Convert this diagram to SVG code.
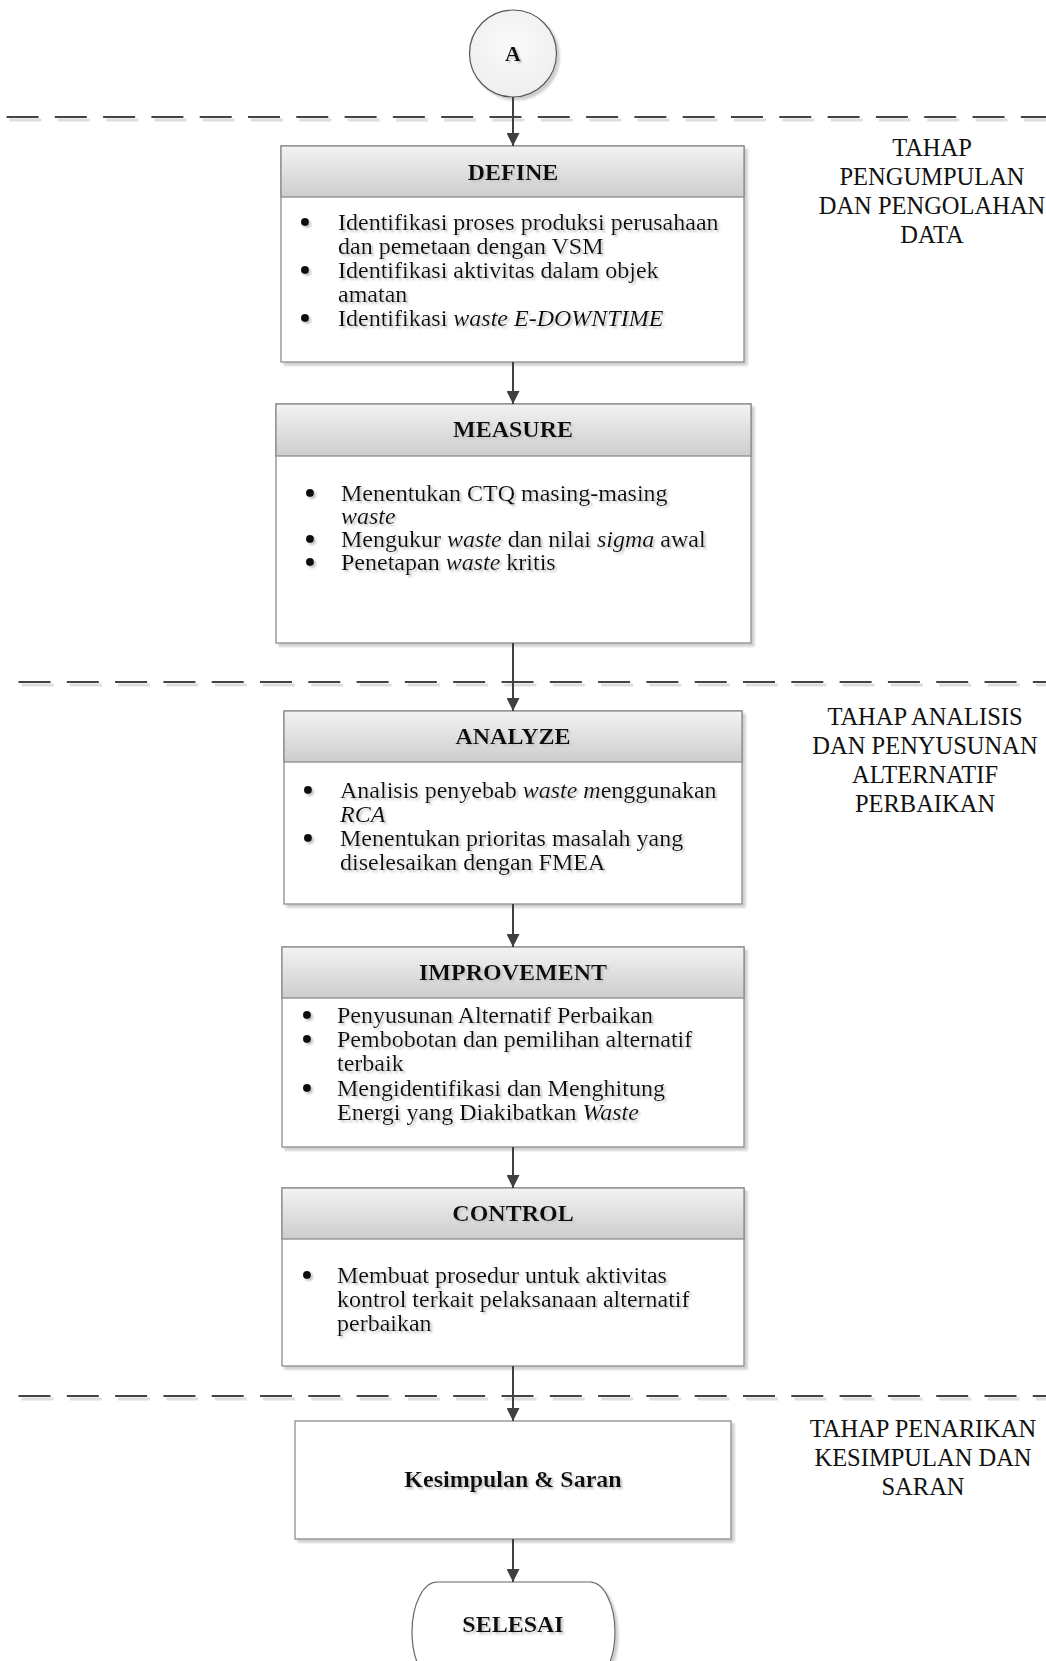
<svg xmlns="http://www.w3.org/2000/svg" width="1046" height="1661" viewBox="0 0 1046 1661">
  <style>
    .box { fill: #ffffff; stroke: #8c8c8c; stroke-width: 1.3; }
    .head { fill: url(#headGrad); stroke: #8c8c8c; stroke-width: 1.3; }
    .title { font-family: "Liberation Serif", "Times New Roman", serif; font-weight: bold; font-size: 24px; fill: #111; text-anchor: middle; }
    .body { font-family: "Liberation Serif", "Times New Roman", serif; font-size: 24px; fill: #111; }
    .dot { fill: #111; }
    .phase { font-family: "Liberation Serif", "Times New Roman", serif; font-size: 24.5px; fill: #111; text-anchor: middle; }
    .sep { stroke: #444; stroke-width: 2.2; fill: none; }
    .sepShadow { stroke: #dedede; stroke-width: 3; fill: none; }
    .conn { stroke: #404040; stroke-width: 2; fill: none; marker-end: url(#arrow); }
    .shade { filter: url(#boxShadow); }
    .txt { filter: url(#textShadow); }
  </style>
  <defs>
    <linearGradient id="headGrad" x1="0" y1="0" x2="0" y2="1">
      <stop offset="0" stop-color="#f3f3f3"/>
      <stop offset="1" stop-color="#cdcdcd"/>
    </linearGradient>
    <radialGradient id="circGrad" cx="0.5" cy="0.4" r="0.6">
      <stop offset="0" stop-color="#fbfbfb"/>
      <stop offset="1" stop-color="#eeeeee"/>
    </radialGradient>
    <filter id="boxShadow" x="-5%" y="-5%" width="115%" height="115%">
      <feOffset in="SourceAlpha" dx="3" dy="3" result="off"/>
      <feGaussianBlur in="off" stdDeviation="1.2" result="blur"/>
      <feFlood flood-color="#cfcfcf"/>
      <feComposite in2="blur" operator="in" result="sh"/>
      <feMerge>
        <feMergeNode in="sh"/>
        <feMergeNode in="SourceGraphic"/>
      </feMerge>
    </filter>
    <filter id="textShadow" x="-5%" y="-20%" width="115%" height="150%">
      <feOffset in="SourceAlpha" dx="2" dy="2" result="off"/>
      <feGaussianBlur in="off" stdDeviation="0.8" result="blur"/>
      <feFlood flood-color="#c4c4c4"/>
      <feComposite in2="blur" operator="in" result="sh"/>
      <feMerge>
        <feMergeNode in="sh"/>
        <feMergeNode in="SourceGraphic"/>
      </feMerge>
    </filter>
    <marker id="arrow" viewBox="0 0 13 13" refX="13" refY="6.5" markerWidth="13" markerHeight="13" markerUnits="userSpaceOnUse" orient="auto">
      <path d="M0,0 L13,6.5 L0,13 z" fill="#404040"/>
    </marker>
  </defs>

  <rect x="0" y="0" width="1046" height="1661" fill="#ffffff"/>

  <!-- phase separators -->
  <g id="separators">
    <line class="sepShadow" x1="9.5" y1="120" x2="1049" y2="120" stroke-dasharray="32 16.3"/>
    <line class="sep" x1="6.5" y1="117" x2="1046" y2="117" stroke-dasharray="32 16.3"/>
    <line class="sepShadow" x1="21.5" y1="685" x2="1049" y2="685" stroke-dasharray="32 16.3"/>
    <line class="sep" x1="18.5" y1="682" x2="1046" y2="682" stroke-dasharray="32 16.3"/>
    <line class="sepShadow" x1="21.5" y1="1399" x2="1049" y2="1399" stroke-dasharray="32 16.3"/>
    <line class="sep" x1="18.5" y1="1396" x2="1046" y2="1396" stroke-dasharray="32 16.3"/>
  </g>

  <!-- phase labels -->
  <g id="phase-1">
    <text class="phase" x="932" y="156">TAHAP</text>
    <text class="phase" x="932" y="185">PENGUMPULAN</text>
    <text class="phase" x="932" y="214">DAN PENGOLAHAN</text>
    <text class="phase" x="932" y="243">DATA</text>
  </g>
  <g id="phase-2">
    <text class="phase" x="925" y="725">TAHAP ANALISIS</text>
    <text class="phase" x="925" y="754">DAN PENYUSUNAN</text>
    <text class="phase" x="925" y="783">ALTERNATIF</text>
    <text class="phase" x="925" y="812">PERBAIKAN</text>
  </g>
  <g id="phase-3">
    <text class="phase" x="923" y="1437">TAHAP PENARIKAN</text>
    <text class="phase" x="923" y="1466">KESIMPULAN DAN</text>
    <text class="phase" x="923" y="1495">SARAN</text>
  </g>

  <!-- connector A -->
  <g id="node-a">
    <circle class="shade" cx="513" cy="53.5" r="43.5" fill="url(#circGrad)" stroke="#555" stroke-width="1.2"/>
    <text class="title txt" x="513" y="61" style="font-size:22px">A</text>
  </g>

  <!-- DEFINE -->
  <g id="node-define">
    <g class="shade">
      <rect class="box" x="281" y="146" width="463" height="216"/>
    </g>
    <rect class="head" x="281" y="146" width="463" height="51"/>
    <text class="title txt" x="513" y="180">DEFINE</text>
    <g class="txt">
      <circle class="dot" cx="305" cy="222" r="4"/>
      <circle class="dot" cx="305" cy="270" r="4"/>
      <circle class="dot" cx="305" cy="318" r="4"/>
      <text class="body" x="338" y="230">Identifikasi proses produksi perusahaan</text>
      <text class="body" x="338" y="254">dan pemetaan dengan VSM</text>
      <text class="body" x="338" y="278">Identifikasi aktivitas dalam objek</text>
      <text class="body" x="338" y="302">amatan</text>
      <text class="body" x="338" y="326">Identifikasi <tspan font-style="italic">waste E-DOWNTIME</tspan></text>
    </g>
  </g>

  <!-- MEASURE -->
  <g id="node-measure">
    <g class="shade">
      <rect class="box" x="276" y="404" width="475" height="239"/>
    </g>
    <rect class="head" x="276" y="404" width="475" height="52"/>
    <text class="title txt" x="513" y="437">MEASURE</text>
    <g class="txt">
      <circle class="dot" cx="310" cy="493" r="4"/>
      <circle class="dot" cx="310" cy="539" r="4"/>
      <circle class="dot" cx="310" cy="562" r="4"/>
      <text class="body" x="341" y="501">Menentukan CTQ masing-masing</text>
      <text class="body" x="341" y="524" font-style="italic">waste</text>
      <text class="body" x="341" y="547">Mengukur <tspan font-style="italic">waste</tspan> dan nilai <tspan font-style="italic">sigma</tspan> awal</text>
      <text class="body" x="341" y="570">Penetapan <tspan font-style="italic">waste</tspan> kritis</text>
    </g>
  </g>

  <!-- ANALYZE -->
  <g id="node-analyze">
    <g class="shade">
      <rect class="box" x="284" y="711" width="458" height="193"/>
    </g>
    <rect class="head" x="284" y="711" width="458" height="51"/>
    <text class="title txt" x="513" y="744">ANALYZE</text>
    <g class="txt">
      <circle class="dot" cx="308" cy="790" r="4"/>
      <circle class="dot" cx="308" cy="838" r="4"/>
      <text class="body" x="340" y="798">Analisis penyebab <tspan font-style="italic">waste m</tspan>enggunakan</text>
      <text class="body" x="340" y="822" font-style="italic">RCA</text>
      <text class="body" x="340" y="846">Menentukan prioritas masalah yang</text>
      <text class="body" x="340" y="870">diselesaikan dengan FMEA</text>
    </g>
  </g>

  <!-- IMPROVEMENT -->
  <g id="node-improvement">
    <g class="shade">
      <rect class="box" x="282" y="947" width="462" height="200"/>
    </g>
    <rect class="head" x="282" y="947" width="462" height="51"/>
    <text class="title txt" x="513" y="980">IMPROVEMENT</text>
    <g class="txt">
      <circle class="dot" cx="307" cy="1015" r="4"/>
      <circle class="dot" cx="307" cy="1039" r="4"/>
      <circle class="dot" cx="307" cy="1088" r="4"/>
      <text class="body" x="337" y="1023">Penyusunan Alternatif Perbaikan</text>
      <text class="body" x="337" y="1047">Pembobotan dan pemilihan alternatif</text>
      <text class="body" x="337" y="1071">terbaik</text>
      <text class="body" x="337" y="1096">Mengidentifikasi dan Menghitung</text>
      <text class="body" x="337" y="1120">Energi yang Diakibatkan <tspan font-style="italic">Waste</tspan></text>
    </g>
  </g>

  <!-- CONTROL -->
  <g id="node-control">
    <g class="shade">
      <rect class="box" x="282" y="1188" width="462" height="178"/>
    </g>
    <rect class="head" x="282" y="1188" width="462" height="51"/>
    <text class="title txt" x="513" y="1221">CONTROL</text>
    <g class="txt">
      <circle class="dot" cx="307" cy="1275" r="4"/>
      <text class="body" x="337" y="1283">Membuat prosedur untuk aktivitas</text>
      <text class="body" x="337" y="1307">kontrol terkait pelaksanaan alternatif</text>
      <text class="body" x="337" y="1331">perbaikan</text>
    </g>
  </g>

  <!-- Kesimpulan & Saran -->
  <g id="node-kesimpulan">
    <g class="shade">
      <rect class="box" x="295" y="1421" width="436" height="118"/>
    </g>
    <text class="title txt" x="513" y="1487">Kesimpulan &amp; Saran</text>
  </g>

  <!-- SELESAI terminator -->
  <g id="node-selesai">
    <g class="shade">
      <rect x="412" y="1582" width="203" height="100" rx="25" ry="50" fill="#ffffff" stroke="#666" stroke-width="1.2"/>
    </g>
    <text class="title txt" x="513" y="1632">SELESAI</text>
  </g>

  <!-- flow connectors -->
  <g id="connectors">
    <line class="conn" x1="513" y1="97" x2="513" y2="146"/>
    <line class="conn" x1="513" y1="362" x2="513" y2="404"/>
    <line class="conn" x1="513" y1="643" x2="513" y2="711"/>
    <line class="conn" x1="513" y1="904" x2="513" y2="947"/>
    <line class="conn" x1="513" y1="1147" x2="513" y2="1188"/>
    <line class="conn" x1="513" y1="1366" x2="513" y2="1421"/>
    <line class="conn" x1="513" y1="1539" x2="513" y2="1582"/>
  </g>
</svg>
